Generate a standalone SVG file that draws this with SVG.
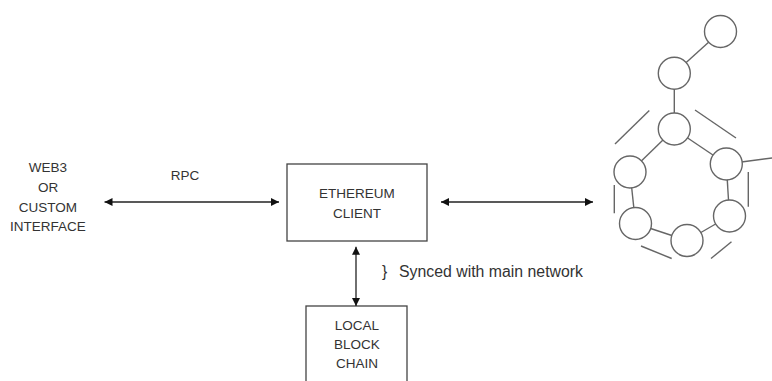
<svg xmlns="http://www.w3.org/2000/svg" width="772" height="381" viewBox="0 0 772 381">
<defs>
<style>
.lbl{font-family:"Liberation Sans",Arial,sans-serif;font-size:13.5px;fill:#333;text-anchor:middle}
.note{font-family:"Liberation Sans",Arial,sans-serif;font-size:15.6px;fill:#333}
.box{fill:#fff;stroke:#444;stroke-width:1.3}
.conn{stroke:#222;stroke-width:1.3;fill:none}
.net circle{fill:#fff;stroke:#666;stroke-width:1.4}
.net line{stroke:#666;stroke-width:1.4}
</style>
<marker id="ah" viewBox="0 0 10 10" refX="10" refY="5" markerWidth="8" markerHeight="8" markerUnits="userSpaceOnUse" orient="auto-start-reverse">
<path d="M0,0 L10,5 L0,10 z" fill="#111"/>
</marker>
</defs>
<rect width="772" height="381" fill="#fff"/>
<g id="web3">
<text class="lbl" x="48" y="172">WEB3</text>
<text class="lbl" x="48" y="192">OR</text>
<text class="lbl" x="48" y="212">CUSTOM</text>
<text class="lbl" x="48" y="231">INTERFACE</text>
</g>
<g id="ethereum-client">
<rect class="box" x="287" y="164" width="140" height="77"/>
<text class="lbl" x="357" y="198">ETHEREUM</text>
<text class="lbl" x="357" y="218">CLIENT</text>
</g>
<g id="local-block-chain">
<rect class="box" x="306" y="306" width="101" height="90"/>
<text class="lbl" x="357" y="330">LOCAL</text>
<text class="lbl" x="357" y="349">BLOCK</text>
<text class="lbl" x="357" y="368">CHAIN</text>
</g>
<g id="network" class="net">
<line x1="720.5" y1="31.5" x2="674.3" y2="73.3"/>
<line x1="674.3" y1="73.3" x2="674.3" y2="129"/>
<line x1="674.3" y1="129" x2="630" y2="172"/>
<line x1="674.3" y1="129" x2="726.3" y2="164"/>
<line x1="630" y1="172" x2="635.5" y2="223.5"/>
<line x1="726.3" y1="164" x2="729.5" y2="216"/>
<line x1="635.5" y1="223.5" x2="687" y2="240.5"/>
<line x1="729.5" y1="216" x2="687" y2="240.5"/>
<line x1="726.3" y1="164" x2="772" y2="158"/>
<line x1="615" y1="144" x2="649.3" y2="110.5"/>
<line x1="695" y1="110" x2="736" y2="138"/>
<line x1="614.3" y1="185" x2="614.3" y2="213.3"/>
<line x1="748.3" y1="172" x2="748.3" y2="206.7"/>
<line x1="641" y1="246" x2="671.7" y2="258.5"/>
<line x1="711" y1="258.5" x2="731.5" y2="241.7"/>
<circle cx="720.5" cy="31.5" r="16"/>
<circle cx="674.3" cy="73.3" r="16"/>
<circle cx="674.3" cy="129" r="16"/>
<circle cx="630" cy="172" r="16"/>
<circle cx="726.3" cy="164" r="16"/>
<circle cx="635.5" cy="223.5" r="16"/>
<circle cx="729.5" cy="216" r="16"/>
<circle cx="687" cy="240.5" r="16"/>
</g>
<g id="connectors">
<line class="conn" x1="104.5" y1="202" x2="279" y2="202" marker-start="url(#ah)" marker-end="url(#ah)"/>
<line class="conn" x1="441" y1="202" x2="593" y2="202" marker-start="url(#ah)" marker-end="url(#ah)"/>
<line class="conn" x1="356" y1="246.7" x2="356" y2="306" marker-start="url(#ah)" marker-end="url(#ah)"/>
<text class="lbl" x="185" y="180">RPC</text>
<text class="note" x="382" y="277">}</text>
<text class="note" x="399" y="277" textLength="184" lengthAdjust="spacingAndGlyphs">Synced with main network</text>
</g>
</svg>
